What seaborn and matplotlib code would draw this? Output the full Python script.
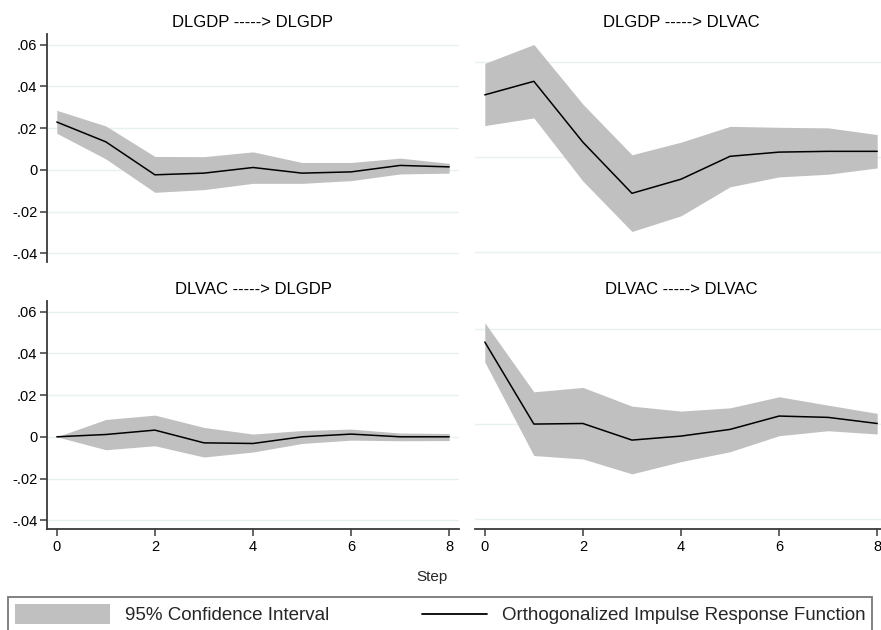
import matplotlib
matplotlib.use("Agg")
import matplotlib.pyplot as plt
import seaborn as sns
from matplotlib.patches import Patch
from matplotlib.lines import Line2D

steps = [0, 1, 2, 3, 4, 5, 6, 7, 8]

gdp_gdp_irf = [0.0229, 0.0134, -0.0024, -0.0016, 0.0011, -0.0016, -0.0010, 0.0021, 0.0014]
gdp_gdp_lo = [0.0175, 0.0052, -0.0108, -0.0095, -0.0065, -0.0065, -0.0052, -0.0020, -0.0016]
gdp_gdp_hi = [0.0285, 0.0210, 0.0064, 0.0063, 0.0086, 0.0035, 0.0035, 0.0056, 0.0031]

gdp_vac_irf = [0.0326, 0.0397, 0.0078, -0.0190, -0.0116, 0.0004, 0.0026, 0.0030, 0.0030]
gdp_vac_lo = [0.0165, 0.0205, -0.0126, -0.0390, -0.0308, -0.0156, -0.0104, -0.0090, -0.0057]
gdp_vac_hi = [0.0491, 0.0590, 0.0277, 0.0012, 0.0078, 0.0161, 0.0156, 0.0153, 0.0118]

vac_gdp_irf = [0.0, 0.0011, 0.0032, -0.0029, -0.0032, 0.0, 0.0013, 0.0, 0.0]
vac_gdp_lo = [0.0, -0.0062, -0.0043, -0.0097, -0.0073, -0.0032, -0.0016, -0.0019, -0.0018]
vac_gdp_hi = [0.0, 0.0083, 0.0104, 0.0045, 0.0013, 0.0030, 0.0037, 0.0018, 0.0016]

vac_vac_irf = [0.0430, 0.0, 0.0003, -0.0084, -0.0063, -0.0028, 0.0042, 0.0035, 0.0003]
vac_vac_lo = [0.0325, -0.0165, -0.0183, -0.0261, -0.0197, -0.0145, -0.0061, -0.0035, -0.0052]
vac_vac_hi = [0.0531, 0.0169, 0.0192, 0.0094, 0.0068, 0.0085, 0.0143, 0.0099, 0.0056]

titles = ["DLGDP -----> DLGDP", "DLGDP -----> DLVAC",
          "DLVAC -----> DLGDP", "DLVAC -----> DLVAC"]
left_yticks = [0.06, 0.04, 0.02, 0.0, -0.02, -0.04]
left_ylabels = [".06", ".04", ".02", "0", "-.02", "-.04"]
right_yticks = [0.05, 0.0, -0.05]
xticks = [0, 2, 4, 6, 8]

sns.set_theme(style="white")
plt.rcParams["font.family"] = ["Liberation Sans", "DejaVu Sans"]

band_color = "#c0c0c0"
grid_color = "#e8f0f1"
axis_color = "#3a3a3a"

fig = plt.figure(figsize=(8.81, 6.30), dpi=100)

# axes boxes in figure fraction
W = 412 / 881
H = 228 / 630
boxes = [
    (47 / 881, 1 - 262 / 630),
    (475 / 881, 1 - 262 / 630),
    (47 / 881, 1 - 529 / 630),
    (475 / 881, 1 - 529 / 630),
]
series = [
    (gdp_gdp_irf, gdp_gdp_lo, gdp_gdp_hi),
    (gdp_vac_irf, gdp_vac_lo, gdp_vac_hi),
    (vac_gdp_irf, vac_gdp_lo, vac_gdp_hi),
    (vac_vac_irf, vac_vac_lo, vac_vac_hi),
]

for i, ((x0, y0), (irf, lo, hi), title) in enumerate(zip(boxes, series, titles)):
    ax = fig.add_axes([x0, y0, W, H])
    left = i % 2 == 0
    bottom = i >= 2

    ax.fill_between(steps, lo, hi, color=band_color, lw=0, zorder=2)
    sns.lineplot(x=steps, y=irf, ax=ax, color="black", lw=1.1, zorder=3)

    ax.set_xlim(-0.2, 8.2)
    if left:
        ax.set_ylim(-0.0442, 0.0651)
        ax.set_yticks(left_yticks, left_ylabels)
    else:
        ax.set_ylim(-0.055, 0.0645)
        ax.set_yticks(right_yticks)
        ax.set_yticklabels([])
    ax.grid(axis="y", color=grid_color, lw=1.0, zorder=0)
    ax.set_axisbelow(True)

    for s in ["top", "right"]:
        ax.spines[s].set_visible(False)
    ax.spines["left"].set_visible(left)
    ax.spines["bottom"].set_visible(bottom)
    for s in ["left", "bottom"]:
        ax.spines[s].set_color(axis_color)
        ax.spines[s].set_linewidth(1.3)

    ax.tick_params(axis="y", left=left, length=5, width=1.1, color=axis_color,
                   labelsize=10.5, pad=2, labelcolor="black")
    if bottom:
        ax.set_xticks(xticks, [str(t) for t in xticks])
        ax.tick_params(axis="x", bottom=True, length=5, width=1.1, color=axis_color,
                       labelsize=10.5, pad=3, labelcolor="black")
    else:
        ax.set_xticks([])
    ax.set_xlabel("")
    ax.set_ylabel("")
    ax.set_title(title, fontsize=12, pad=5, color="black")

fig.text(432 / 881, 1 - 577 / 630, "Step", ha="center", va="center", fontsize=11)


class ShortLineHandler:
    def legend_artist(self, legend, orig_handle, fontsize, handlebox):
        x0, y0 = -handlebox.xdescent, -handlebox.ydescent
        w, h = handlebox.width, handlebox.height
        ln = Line2D([x0 + w * 0.32, x0 + w], [y0 + h / 2, y0 + h / 2],
                    color="black", lw=1.3)
        handlebox.add_artist(ln)
        return ln


band_handle = Patch(facecolor=band_color, edgecolor="none")
line_handle = Line2D([], [], color="black", lw=1.3)
leg = fig.legend([band_handle, line_handle],
                 ["95% Confidence Interval", "Orthogonalized Impulse Response Function"],
                 handler_map={Line2D: ShortLineHandler()},
                 loc="upper left", bbox_to_anchor=(8 / 881, 0.0, 864 / 881, 1 - 597 / 630),
                 mode="expand", ncol=2, fontsize=13.5, frameon=True, fancybox=False,
                 handlelength=5.1, handleheight=1.3, handletextpad=0.8,
                 borderpad=0.35, borderaxespad=0.0)
leg.get_frame().set_edgecolor("#555555")
leg.get_frame().set_linewidth(1.3)

fig.savefig("out.png", dpi=100)
